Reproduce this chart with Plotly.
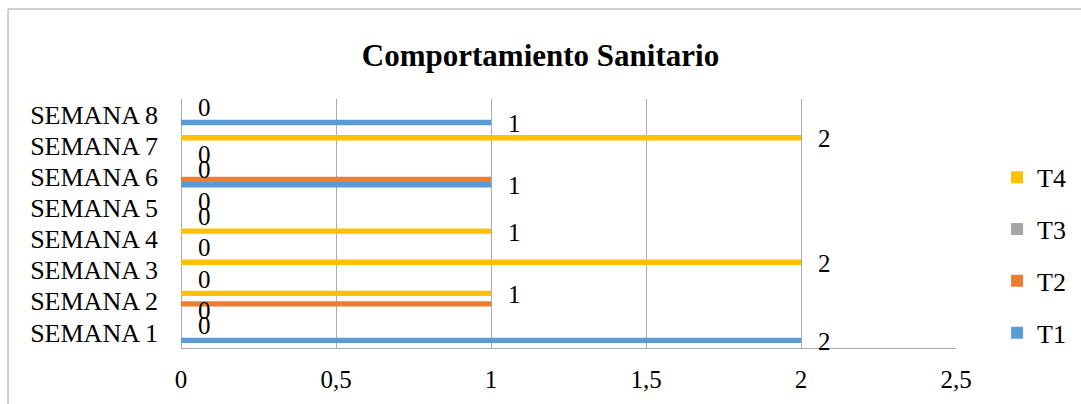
import plotly.graph_objects as go

categories = ["SEMANA 1", "SEMANA 2", "SEMANA 3", "SEMANA 4",
              "SEMANA 5", "SEMANA 6", "SEMANA 7", "SEMANA 8"]
t1 = [2, 0, 0, 0, 0, 1, 0, 1]
t2 = [0, 1, 0, 0, 0, 1, 0, 0]
t3 = [0, 0, 0, 0, 0, 0, 0, 0]
t4 = [0, 1, 2, 1, 0, 0, 2, 0]
series_names = ["T1", "T2", "T3", "T4"]
series_values = [t1, t2, t3, t4]
series_colors = ["#5B9BD5", "#ED7D31", "#A5A5A5", "#FFC000"]
labelled = [True, False, False, True]
x_ticks = [0, 0.5, 1, 1.5, 2, 2.5]
x_tick_text = ["0", "0,5", "1", "1,5", "2", "2,5"]

W, H = 1081, 404
L, R, T, B = 181, 125, 99, 56
plot_h = H - T - B
bargap = 0.32

FONT = "Liberation Serif, Times New Roman, serif"

fig = go.Figure()
n = len(series_names)
for i, (name, vals, col) in enumerate(zip(series_names, series_values, series_colors)):
    fig.add_trace(go.Bar(
        y=categories, x=vals, name=name, orientation="h",
        marker=dict(color=col, line=dict(width=0)),
        legendgroup=name, legendrank=n - i,
    ))

# data labels placed from the data, shifted onto each bar's slot in the group
band = plot_h / len(categories)
w = band * (1 - bargap) / n
annotations = []
for i, (vals, lab) in enumerate(zip(series_values, labelled)):
    if not lab:
        continue
    off = (i - (n - 1) / 2) * w
    for cat, v in zip(categories, vals):
        annotations.append(dict(
            x=v, y=cat, xref="x", yref="y", text=str(v), showarrow=False,
            xanchor="center", yanchor="middle", xshift=23, yshift=off - 1,
            font=dict(family=FONT, size=25, color="#000000"),
        ))

fig.update_layout(
    width=W, height=H,
    margin=dict(l=L, r=R, t=T, b=B, autoexpand=False),
    paper_bgcolor="white", plot_bgcolor="white",
    barmode="group", bargap=bargap, bargroupgap=0,
    font=dict(family=FONT, size=24, color="#000000"),
    title=dict(text="<b>Comportamiento Sanitario</b>", x=0.5, xanchor="center",
               y=1 - 55 / H, yanchor="middle",
               font=dict(family=FONT, size=31, color="#000000")),
    showlegend=True,
    legend=dict(traceorder="grouped", tracegroupgap=15,
                x=1.053, xanchor="left", y=0.372, yanchor="middle",
                font=dict(family=FONT, size=26, color="#000000"),
                itemwidth=30, bgcolor="rgba(0,0,0,0)"),
    xaxis=dict(range=[0, 2.5], autorange=False,
               tickmode="array", tickvals=x_ticks, ticktext=x_tick_text,
               showgrid=True, gridcolor="#ABABAB", gridwidth=1,
               zeroline=True, zerolinecolor="#ABABAB", zerolinewidth=1,
               showline=True, linecolor="#ABABAB", linewidth=1,
               ticks="", ticklabelstandoff=9,
               tickfont=dict(family=FONT, size=25, color="#000000"),
               fixedrange=True),
    yaxis=dict(type="category", categoryorder="array", categoryarray=categories,
               range=[-0.5, len(categories) - 0.5], autorange=False,
               tickmode="array", tickvals=categories, ticktext=categories,
               showgrid=False, zeroline=False, showline=False,
               ticks="", ticklabelstandoff=22,
               tickfont=dict(family=FONT, size=26, color="#000000"),
               fixedrange=True),
    annotations=annotations,
    shapes=[dict(type="rect", xref="paper", yref="paper",
                 x0=(8 - L) / (W - L - R), x1=(1095 - L) / (W - L - R),
                 y0=(H - B - 420) / plot_h, y1=(H - B - 9) / plot_h,
                 line=dict(color="#A0A0A0", width=1), layer="below")],
)

fig.write_html("out.html", config={"displayModeBar": False},
               post_script="document.body.style.margin='0px';document.body.style.overflow='hidden';")
